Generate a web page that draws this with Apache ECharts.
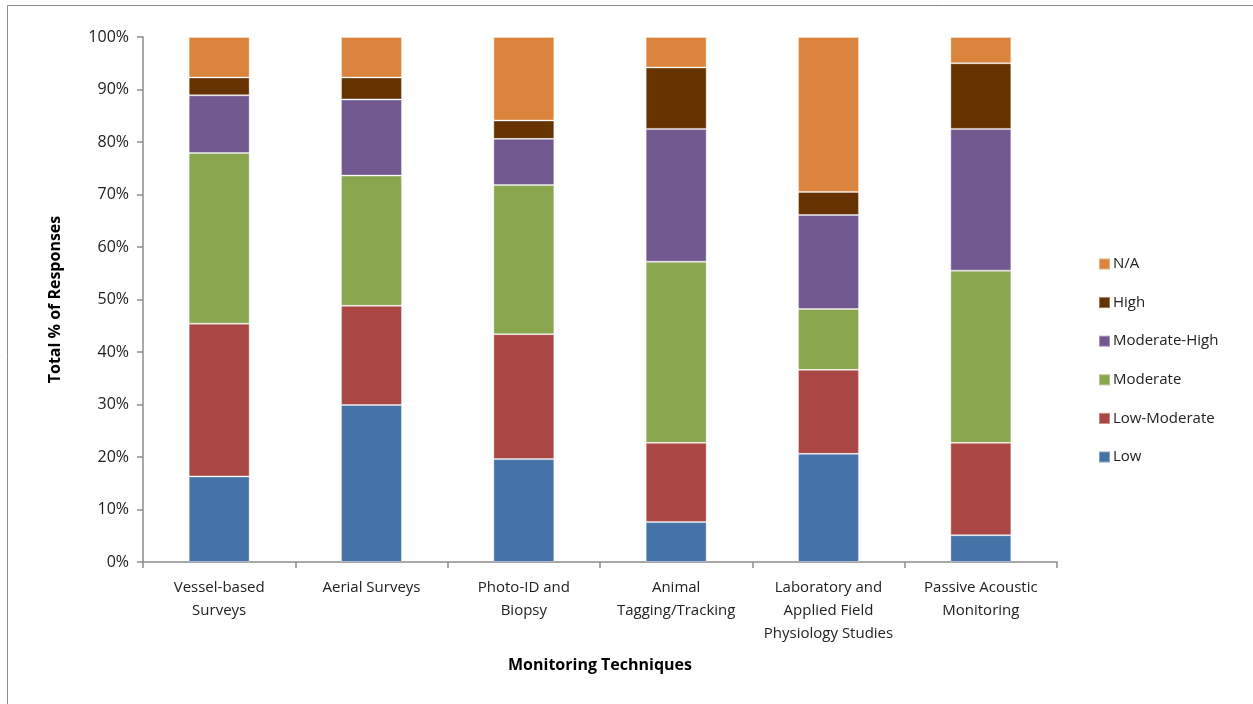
<!DOCTYPE html>
<html>
<head>
<meta charset="utf-8">
<script src="https://cdn.jsdelivr.net/npm/echarts@6/dist/echarts.min.js"></script>
<style>
  html, body { margin: 0; padding: 0; background: #ffffff; }
  #chart { width: 1253px; height: 704px; }
</style>
</head>
<body>
<div id="chart"></div>
<script>
// Monitoring techniques on the x axis
const categories = [
  'Vessel-based\nSurveys',
  'Aerial Surveys',
  'Photo-ID and\nBiopsy',
  'Animal\nTagging/Tracking',
  'Laboratory and\nApplied Field\nPhysiology Studies',
  'Passive Acoustic\nMonitoring'
];

// Share of responses (%) per rating level
const low          = [16.3, 29.9, 19.6,  7.6, 20.6,  5.1];
const lowModerate  = [29.1, 18.9, 23.8, 15.1, 16.0, 17.6];
const moderate     = [32.5, 24.8, 28.4, 34.5, 11.6, 32.8];
const moderateHigh = [11.0, 14.5,  8.8, 25.3, 17.9, 27.0];
const high         = [ 3.4,  4.2,  3.5, 11.7,  4.4, 12.5];
const notApplicable= [ 7.7,  7.7, 15.9,  5.8, 29.5,  5.0];

const yTicks = [0, 10, 20, 30, 40, 50, 60, 70, 80, 90, 100];

const seriesDefs = [
  { name: 'Low',           data: low,           color: '#4572A7' },
  { name: 'Low-Moderate',  data: lowModerate,   color: '#AA4643' },
  { name: 'Moderate',      data: moderate,      color: '#89A54E' },
  { name: 'Moderate-High', data: moderateHigh,  color: '#71588F' },
  { name: 'High',          data: high,          color: '#663300' },
  { name: 'N/A',           data: notApplicable, color: '#DB843D' }
];

const FONT = 'Open Sans';
const chart = echarts.init(document.getElementById('chart'), null, { renderer: 'canvas' });

chart.setOption({
  backgroundColor: '#ffffff',
  animation: false,
  textStyle: { fontFamily: FONT },
  // frame: top and left edges visible, right and bottom run off the canvas
  graphic: [{
    type: 'rect',
    shape: { x: 7.5, y: 5.5, width: 1300, height: 760 },
    style: { fill: 'none', stroke: '#8c8c8c', lineWidth: 1 },
    silent: true
  }],
  grid: { left: 143, top: 37, width: 914, height: 525, containLabel: false },
  legend: {
    orient: 'vertical',
    left: 1093,
    top: 248,
    itemWidth: 11,
    itemHeight: 11,
    itemGap: 16.6,
    icon: 'rect',
    data: ['N/A', 'High', 'Moderate-High', 'Moderate', 'Low-Moderate', 'Low'],
    textStyle: { fontFamily: FONT, fontSize: 15, color: '#222', lineHeight: 22, padding: [0, 0, 0, -2] }
  },
  xAxis: {
    type: 'category',
    data: categories,
    name: 'Monitoring Techniques',
    nameLocation: 'middle',
    nameGap: 95,
    nameTextStyle: { fontFamily: FONT, fontSize: 16, fontWeight: 'bold', color: '#000' },
    axisLine: { lineStyle: { color: '#8c8c8c', width: 1.5 } },
    axisTick: { show: true, alignWithLabel: false, length: 6, lineStyle: { color: '#8c8c8c', width: 1.5 } },
    axisLabel: { fontFamily: FONT, fontSize: 15, color: '#222', lineHeight: 23, margin: 14, interval: 0 }
  },
  yAxis: {
    type: 'value',
    min: yTicks[0],
    max: yTicks[yTicks.length - 1],
    interval: 10,
    name: 'Total % of Responses',
    nameLocation: 'middle',
    nameGap: 80,
    nameTextStyle: { fontFamily: FONT, fontSize: 16, fontWeight: 'bold', color: '#000' },
    axisLine: { show: true, lineStyle: { color: '#8c8c8c', width: 1.5 } },
    axisTick: { show: true, length: 6, inside: false, lineStyle: { color: '#8c8c8c', width: 1.5 } },
    splitLine: { show: false },
    axisLabel: { fontFamily: FONT, fontSize: 16, color: '#222', margin: 14, formatter: '{value}%' }
  },
  series: seriesDefs.map(s => ({
    name: s.name,
    type: 'bar',
    stack: 'total',
    barWidth: '40%',
    data: s.data,
    itemStyle: { color: s.color, borderColor: 'rgba(255,255,255,0.35)', borderWidth: 1 }
  }))
});
</script>
</body>
</html>
